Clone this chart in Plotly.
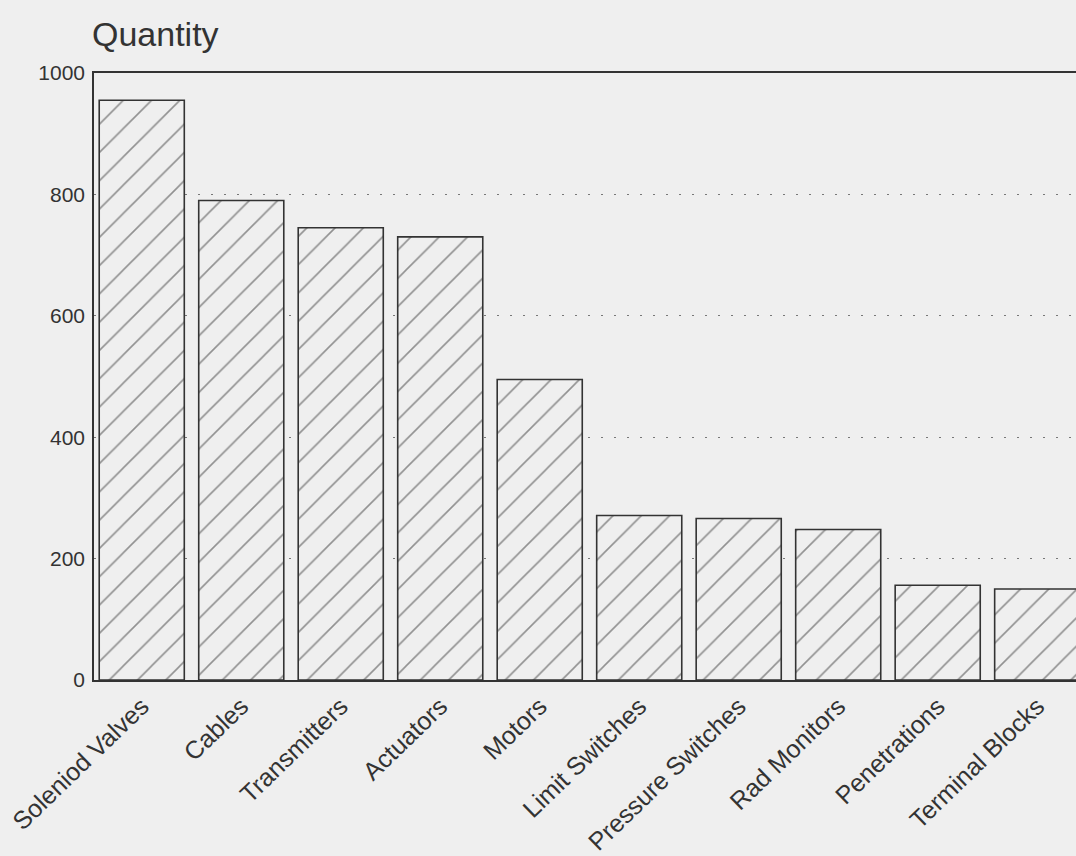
import plotly.graph_objects as go

categories = ["Soleniod Valves", "Cables", "Transmitters", "Actuators", "Motors",
              "Limit Switches", "Pressure Switches", "Rad Monitors", "Penetrations",
              "Terminal Blocks"]
quantities = [955, 790, 745, 730, 495, 271, 266, 248, 156, 150]
y_ticks = [0, 200, 400, 600, 800, 1000]

BG = "#efefef"
INK = "#333333"

fig = go.Figure(go.Bar(
    x=list(range(len(categories))),
    y=quantities,
    width=0.855,
    marker=dict(
        color=BG,
        line=dict(color=INK, width=1.6),
        pattern=dict(shape="/", fgcolor="#333333", bgcolor=BG, size=20, solidity=0.08),
    ),
))

fig.update_layout(
    width=1076, height=856,
    paper_bgcolor=BG, plot_bgcolor=BG,
    margin=dict(l=94, r=0, t=73, b=174),
    showlegend=False,
    font=dict(family="Liberation Sans, Arial, sans-serif", color="#333333"),
    annotations=[dict(
        text="Quantity", xref="paper", yref="paper", x=0, y=1,
        xanchor="left", yanchor="bottom", xshift=-4, yshift=18,
        showarrow=False, font=dict(size=34, color="#333333"),
    )],
)

fig.update_xaxes(
    range=[-0.48, 9.39],
    tickmode="array", tickvals=list(range(len(categories))), ticktext=categories,
    tickangle=-44, tickfont=dict(size=25),
    showgrid=False, zeroline=False,
    showline=True, linecolor=INK, linewidth=1.6, mirror=True,
    ticks="",
)
fig.update_yaxes(
    range=[0, 1000],
    tickmode="array", tickvals=y_ticks,
    tickfont=dict(size=21),
    showgrid=True, gridcolor="#777777", gridwidth=1, griddash="2px,11px",
    zeroline=False,
    showline=True, linecolor=INK, linewidth=1.6,
    ticks="", ticklabelstandoff=3,
)

post = ("document.body.style.margin='0';"
        "document.body.style.padding='0';"
        "document.body.style.background='%s';"
        "document.documentElement.style.background='%s';" % (BG, BG))
fig.write_html("out.html", post_script=post, config={"displayModeBar": False})
